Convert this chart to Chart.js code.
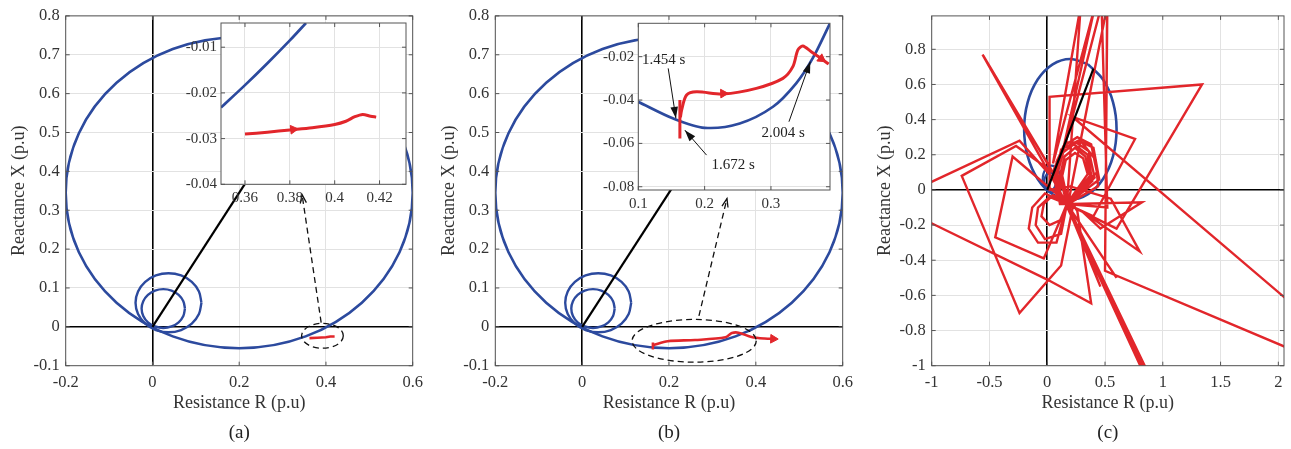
<!DOCTYPE html>
<html lang="en">
<head>
<meta charset="UTF-8">
<title>Impedance trajectories (a) (b) (c)</title>
<script src="https://cdn.jsdelivr.net/npm/chart.js"></script>
<style>
  body { margin: 0; background: #fff; }
  #wrap { position: relative; width: 1291px; height: 449px; overflow: hidden; }
  #wrap canvas { position: absolute; }
</style>
</head>
<body>
<div id="wrap">
  <canvas id="mainA"></canvas>
  <canvas id="mainB"></canvas>
  <canvas id="mainC"></canvas>
  <canvas id="insetA"></canvas>
  <canvas id="insetB"></canvas>
</div>
<script>
// ---- ticks ----
const xTicksMain = [-0.2, 0, 0.2, 0.4, 0.6];
const yTicksMain = [-0.1, 0, 0.1, 0.2, 0.3, 0.4, 0.5, 0.6, 0.7, 0.8];
const xTicksC = [-1, -0.5, 0, 0.5, 1, 1.5, 2];
const yTicksC = [-1, -0.8, -0.6, -0.4, -0.2, 0, 0.2, 0.4, 0.6, 0.8];
const xTicksInsetA = [0.36, 0.38, 0.40, 0.42];
const yTicksInsetA = [-0.04, -0.03, -0.02, -0.01];
const xTicksInsetB = [0.1, 0.2, 0.3];
const yTicksInsetB = [-0.08, -0.06, -0.04, -0.02];

// ---- relay characteristics (R, X) ----
const zone3 = [[0.3531, 0.7146], [0.2, 0.745], [0.0469, 0.7146], [-0.0828, 0.6278], [-0.1696, 0.4981],
  [-0.2, 0.345], [-0.1696, 0.1919], [-0.0828, 0.0622], [0.0469, -0.0246], [0.2, -0.055],
  [0.3531, -0.0246], [0.4828, 0.0622], [0.5696, 0.1919], [0.6, 0.345], [0.5696, 0.4981],
  [0.4828, 0.6278], [0.3531, 0.7146]];
const zone2 = [[0.113, 0.062], [0.1072, 0.0911], [0.0907, 0.1157], [0.0661, 0.1322], [0.037, 0.138],
  [0.0079, 0.1322], [-0.0167, 0.1157], [-0.0332, 0.0911], [-0.039, 0.062], [-0.0332, 0.0329],
  [-0.0167, 0.0083], [0.0079, -0.0082], [0.037, -0.014], [0.0661, -0.0082], [0.0907, 0.0083],
  [0.1072, 0.0329], [0.113, 0.062]];
const zone1 = [[0.075, 0.047], [0.0712, 0.0661], [0.0604, 0.0824], [0.0441, 0.0932], [0.025, 0.097],
  [0.0059, 0.0932], [-0.0104, 0.0824], [-0.0212, 0.0661], [-0.025, 0.047], [-0.0212, 0.0279],
  [-0.0104, 0.0116], [0.0059, 0.0009], [0.025, -0.003], [0.0441, 0.0009], [0.0604, 0.0116],
  [0.0712, 0.0279], [0.075, 0.047]];
const lineImp = [[0, 0], [0.4, 0.69]];

// ---- impedance trajectories ----
const trajA = [[0.362, -0.029], [0.38, -0.028], [0.40, -0.027], [0.41, -0.025], [0.42, -0.025]];
const trajBdrop = [[0.163, -0.058], [0.163, -0.040]];
const trajB = [[0.164, -0.047], [0.197, -0.037], [0.26, -0.034], [0.33, -0.027], [0.345, -0.016],
  [0.36, -0.015], [0.39, -0.026], [0.42, -0.030], [0.447, -0.031]];
const trajBArrow = [[0.44, -0.031]];

const zoomBlueA = [[0.3493, -0.0232], [0.36, -0.0183], [0.37, -0.0135], [0.38, -0.0085], [0.3872, -0.0047]];
const zoomRedA = [[0.36, -0.029], [0.37, -0.0286], [0.38, -0.0281], [0.39, -0.0276], [0.40, -0.0269],
  [0.405, -0.0262], [0.409, -0.0252], [0.4125, -0.0247], [0.416, -0.0251], [0.4185, -0.0253]];
const zoomArrowA = [[0.3815, -0.0280]];

const zoomBlueB = [[0.1, -0.0408], [0.1527, -0.0485], [0.2, -0.0528], [0.2529, -0.0508], [0.303, -0.0431],
  [0.338, -0.0323], [0.363, -0.0207], [0.389, -0.0046]];
const zoomRedBdrop = [[0.1627, -0.0577], [0.1627, -0.0400]];
const zoomRedB = [[0.1635, -0.0480], [0.1653, -0.0446], [0.1728, -0.0377], [0.1878, -0.0362], [0.2278, -0.0372],
  [0.278, -0.0346], [0.318, -0.030], [0.333, -0.0246], [0.3406, -0.0169], [0.348, -0.0151],
  [0.3607, -0.0177], [0.373, -0.0203], [0.387, -0.0234]];
const zoomArrowB = [[0.228, -0.0370], [0.376, -0.0210]];

const trajC = [
  [0.17, -0.08], [0.37, 0.08], [0.33, 0.19], [0.24, 0.24], [0.15, 0.19], [0.11, 0.08], [0.15, -0.03],
  [0.17, -0.08], [0.41, 0.07], [0.36, 0.22], [0.25, 0.27], [0.13, 0.21], [0.09, 0.09], [0.12, -0.05],
  [0.17, -0.08], [0.45, 0.06], [0.40, 0.24], [0.27, 0.28], [0.12, 0.23], [0.07, 0.07], [0.11, -0.08],
  [0.17, -0.08], [0.35, 0.09], [0.31, 0.18], [0.24, 0.21], [0.16, 0.17], [0.13, 0.08], [0.16, -0.01],
  [0.18, -0.07], [0.43, 0.10], [0.38, 0.26], [0.26, 0.30], [0.14, 0.25], [0.06, 0.12], [0.08, -0.03],
  [0.17, -0.08], [0.39, 0.05], [0.35, 0.20], [0.23, 0.26], [0.11, 0.20], [0.08, 0.05], [0.13, -0.06],
  [0.18, -0.08], [0.44, 0.02], [0.42, 0.17], [0.30, 0.27], [0.16, 0.27], [0.08, 0.16], [0.09, -0.01],
  [0.17, -0.08], [0.02, -0.04], [-0.08, -0.10], [-0.10, -0.20], [-0.02, -0.28], [0.12, -0.25],
  [0.17, -0.08], [0.05, -0.03], [-0.03, -0.08], [-0.05, -0.15], [0.02, -0.20], [0.12, -0.17],
  [0.17, -0.08], [-0.02, -0.02], [-0.13, -0.10], [-0.16, -0.22], [-0.08, -0.30], [0.08, -0.30],
  [0.17, -0.08], [0.88, -1.05], [0.17, -0.09], [0.86, -1.05], [0.16, -0.08], [0.84, -1.05],
  [0.17, -0.08], [0.60, -0.50], [0.16, -0.07], [0.46, -0.55], [0.18, -0.08],
  [0.52, 1.05], [0.50, -0.46], [2.3, -0.96], [2.3, -0.75], [0.22, 0.415],
  [0.76, 0.29], [0.40, -0.15], [0.17, -0.08], [0.82, -0.07], [0.46, -0.22], [0.30, -0.12],
  [0.80, -0.35], [0.55, -0.05], [0.20, 0.02], [0.02, 0.0], [0.02, 0.53], [1.34, 0.60], [0.60, -0.22],
  [0.17, -0.08], [-0.56, 0.77], [0.12, 0.02], [-0.55, 0.76], [0.14, 0.00],
  [-0.24, 0.28], [-1.2, -0.015], [-1.2, -0.126], [0.0, -0.51], [0.38, -0.645], [0.26, -0.12],
  [0.05, 0.10], [-0.27, 0.25], [-0.74, 0.08], [-0.24, -0.70], [0.12, -0.43], [0.22, -0.10],
  [-0.30, 0.19], [-0.45, -0.27], [-0.03, -0.39], [0.12, -0.16], [0.17, -0.08],
  [0.29, 1.05], [0.05, 0.15], [0.415, 1.05], [0.10, 0.12], [0.47, 1.05], [0.52, -0.10], [0.17, -0.08]
];

const SERIF = '"Liberation Serif", "Times New Roman", serif';
const BLUE = '#2c4a9e';
const RED = '#e2262b';
const fmt = v => String(+(+v).toFixed(4));
const pts = arr => arr.map(([x, y]) => ({ x, y }));

function curve(arr, color, width, tension) {
  return { data: pts(arr), showLine: true, borderColor: color, borderWidth: width,
    pointRadius: 0, tension: tension || 0, fill: false };
}
function heads(arr, rot) {
  return { data: pts(arr), showLine: false, pointStyle: 'triangle', pointRadius: 5,
    pointRotation: rot, pointBackgroundColor: RED, pointBorderColor: RED, pointBorderWidth: 1 };
}

// white plot background for the zoom boxes, matlab style box with inward ticks
const frame = {
  id: 'frame',
  beforeDraw(chart, args, o) {
    if (!o.fill) return;
    const { ctx, chartArea: a } = chart;
    ctx.save();
    ctx.fillStyle = o.fill;
    ctx.fillRect(a.left, a.top, a.width, a.height);
    ctx.restore();
  },
  afterDraw(chart) {
    const { ctx, chartArea: a, scales: { x, y } } = chart;
    ctx.save();
    ctx.strokeStyle = '#555';
    ctx.lineWidth = 1;
    ctx.strokeRect(a.left, a.top, a.width, a.height);
    ctx.beginPath();
    x.ticks.forEach(k => {
      const p = x.getPixelForValue(k.value);
      ctx.moveTo(p, a.bottom); ctx.lineTo(p, a.bottom - 4);
      ctx.moveTo(p, a.top); ctx.lineTo(p, a.top + 4);
    });
    y.ticks.forEach(k => {
      const p = y.getPixelForValue(k.value);
      ctx.moveTo(a.left, p); ctx.lineTo(a.left + 4, p);
      ctx.moveTo(a.right, p); ctx.lineTo(a.right - 4, p);
    });
    ctx.stroke();
    ctx.restore();
  }
};

// dashed zoom marks, pointer arrows and time labels, in data units
const deco = {
  id: 'deco',
  afterDatasetsDraw(chart, args, o) {
    const { ctx, scales: { x, y } } = chart;
    const px = p => [x.getPixelForValue(p[0]), y.getPixelForValue(p[1])];
    ctx.save();
    ctx.strokeStyle = '#111';
    ctx.fillStyle = '#111';
    (o.ellipses || []).forEach(e => {
      const [cx, cy] = px([e.cx, e.cy]);
      const rx = Math.abs(x.getPixelForValue(e.cx + e.rx) - cx);
      const ry = Math.abs(y.getPixelForValue(e.cy + e.ry) - cy);
      ctx.setLineDash([6, 4]);
      ctx.lineWidth = 1.3;
      ctx.beginPath();
      ctx.ellipse(cx, cy, rx, ry, 0, 0, Math.PI * 2);
      ctx.stroke();
    });
    (o.arrows || []).forEach(a => {
      const [x0, y0] = px(a.from), [x1, y1] = px(a.to);
      ctx.setLineDash(a.dashed ? [6, 4] : []);
      ctx.lineWidth = a.dashed ? 1.3 : 1;
      ctx.beginPath(); ctx.moveTo(x0, y0); ctx.lineTo(x1, y1); ctx.stroke();
      ctx.setLineDash([]);
      const ang = Math.atan2(y1 - y0, x1 - x0);
      const L = a.dashed ? 9 : 12, W = a.dashed ? 0.35 : 0.32;
      ctx.beginPath();
      ctx.moveTo(x1 - L * Math.cos(ang - W), y1 - L * Math.sin(ang - W));
      ctx.lineTo(x1, y1);
      ctx.lineTo(x1 - L * Math.cos(ang + W), y1 - L * Math.sin(ang + W));
      if (a.dashed) ctx.stroke(); else { ctx.closePath(); ctx.fill(); }
    });
    ctx.font = '15px ' + SERIF;
    ctx.textBaseline = 'middle';
    ctx.textAlign = 'left';
    ctx.fillStyle = '#222';
    (o.texts || []).forEach(t => {
      const [tx, ty] = px(t.at);
      ctx.fillText(t.text, tx, ty);
    });
    ctx.restore();
  }
};

function makeChart(id, box, area, cfg) {
  const el = document.getElementById(id);
  el.width = box.w; el.height = box.h;
  el.style.left = box.x + 'px'; el.style.top = box.y + 'px';
  const main = !!cfg.caption;
  const capPad = main ? 4.6 : 0;
  const capH = main ? 19 * 1.2 : 0;
  const xH = box.y + box.h - capPad - capH - area.b;
  const yW = area.l - box.x;
  const isZero = c => c.tick && Math.abs(c.tick.value) < 1e-9;
  const grid = { color: c => isZero(c) ? '#000' : '#e2e2e2', lineWidth: c => isZero(c) ? 1.6 : 1, drawTicks: false };
  const tickFont = { family: SERIF, size: main ? 16.5 : 15 };
  const titleFont = { family: SERIF, size: 18 };
  return new Chart(el, {
    type: 'scatter',
    data: { datasets: cfg.datasets },
    plugins: [frame, deco],
    options: {
      responsive: false,
      animation: false,
      events: [],
      layout: { padding: { left: 0, top: area.t - box.y, right: box.x + box.w - area.r, bottom: capPad } },
      scales: {
        x: {
          type: 'linear', position: 'bottom', min: cfg.xRange[0], max: cfg.xRange[1],
          afterBuildTicks: s => { s.ticks = cfg.xTicks.map(v => ({ value: v })); },
          afterFit: s => { s.height = xH; },
          ticks: { callback: fmt, font: tickFont, color: '#333', padding: main ? 7 : 5, maxRotation: 0, autoSkip: false },
          grid: grid,
          border: { display: false },
          title: main ? { display: true, text: 'Resistance R (p.u)', font: titleFont, color: '#333',
            padding: { top: 0, bottom: 7.8 } } : { display: false }
        },
        y: {
          type: 'linear', position: 'left', min: cfg.yRange[0], max: cfg.yRange[1],
          afterBuildTicks: s => { s.ticks = cfg.yTicks.map(v => ({ value: v })); },
          afterFit: s => { s.width = yW; },
          ticks: { callback: fmt, font: tickFont, color: '#333', padding: main ? 6 : 4, autoSkip: false },
          grid: grid,
          border: { display: false },
          title: main ? { display: true, text: 'Reactance X (p.u)', font: titleFont, color: '#333',
            padding: { top: cfg.yTitlePad, bottom: 0 } } : { display: false }
        }
      },
      plugins: {
        legend: { display: false },
        tooltip: { enabled: false },
        title: main ? { display: true, text: cfg.caption, position: 'bottom', fullSize: false,
          font: { family: SERIF, size: 19, weight: 'normal', lineHeight: 1.2 }, color: '#222', padding: 0 } : { display: false },
        frame: { fill: main ? null : '#fff' },
        deco: cfg.deco || {}
      }
    }
  });
}

const relay = () => [
  curve(lineImp, '#000', 2.2),
  curve(zone1, BLUE, 2.4, 0.34),
  curve(zone2, BLUE, 2.4, 0.34),
  curve(zone3, BLUE, 2.6, 0.34)
];

makeChart('mainA', { x: 0, y: 0, w: 430, h: 449 }, { l: 65.7, t: 12.7, r: 418.3, b: 365.7 }, {
  caption: '(a)', yTitlePad: 8.2,
  xRange: [-0.2, 0.6], yRange: [-0.1, 0.8], xTicks: xTicksMain, yTicks: yTicksMain,
  datasets: [curve(trajA, RED, 2.6)].concat(relay()),
  deco: {
    ellipses: [{ cx: 0.392, cy: -0.023, rx: 0.048, ry: 0.032 }],
    arrows: [{ from: [0.389, 0.011], to: [0.345, 0.34], dashed: true }]
  }
});

makeChart('mainB', { x: 430, y: 0, w: 430, h: 449 }, { l: 495.3, t: 12.7, r: 848.3, b: 365.7 }, {
  caption: '(b)', yTitlePad: 8.2,
  xRange: [-0.2, 0.6], yRange: [-0.1, 0.8], xTicks: xTicksMain, yTicks: yTicksMain,
  datasets: [heads(trajBArrow, 92), curve(trajBdrop, RED, 2.6), curve(trajB, RED, 2.6, 0.3)].concat(relay()),
  deco: {
    ellipses: [{ cx: 0.258, cy: -0.036, rx: 0.143, ry: 0.055 }],
    arrows: [{ from: [0.269, 0.028], to: [0.3335, 0.33], dashed: true }]
  }
});

makeChart('mainC', { x: 860, y: 0, w: 431, h: 449 }, { l: 931.7, t: 12.7, r: 1284, b: 365.7 }, {
  caption: '(c)', yTitlePad: 14.2,
  xRange: [-1, 2.049], yRange: [-1, 0.99], xTicks: xTicksC, yTicks: yTicksC,
  datasets: [curve(lineImp, '#000', 2.2), curve(trajC, RED, 2.4),
    curve(zone1, BLUE, 2.2, 0.34), curve(zone2, BLUE, 2.2, 0.34), curve(zone3, BLUE, 2.6, 0.34)]
});

makeChart('insetA', { x: 170, y: 10, w: 245, h: 200 }, { l: 221, t: 21.3, r: 406, b: 184.3 }, {
  xRange: [0.3493, 0.4318], yRange: [-0.04, -0.0047], xTicks: xTicksInsetA, yTicks: yTicksInsetA,
  datasets: [heads(zoomArrowA, 84), curve(zoomRedA, RED, 3, 0.3), curve(zoomBlueA, BLUE, 2.7, 0.3)]
});

makeChart('insetB', { x: 585, y: 10, w: 255, h: 215 }, { l: 638.3, t: 23.3, r: 830, b: 190 }, {
  xRange: [0.1, 0.389], yRange: [-0.0815, -0.0046], xTicks: xTicksInsetB, yTicks: yTicksInsetB,
  datasets: [heads(zoomArrowB, [88, 125]), curve(zoomRedBdrop, RED, 3), curve(zoomRedB, RED, 3, 0.3),
    curve(zoomBlueB, BLUE, 2.7, 0.3)],
  deco: {
    arrows: [
      { from: [0.1451, -0.0254], to: [0.1567, -0.0484] },
      { from: [0.2029, -0.0654], to: [0.1702, -0.0539] },
      { from: [0.3271, -0.0500], to: [0.3593, -0.0223] }
    ],
    texts: [
      { at: [0.1056, -0.0215], text: '1.454 s' },
      { at: [0.2104, -0.0700], text: '1.672 s' },
      { at: [0.2856, -0.0554], text: '2.004 s' }
    ]
  }
});
</script>
</body>
</html>
